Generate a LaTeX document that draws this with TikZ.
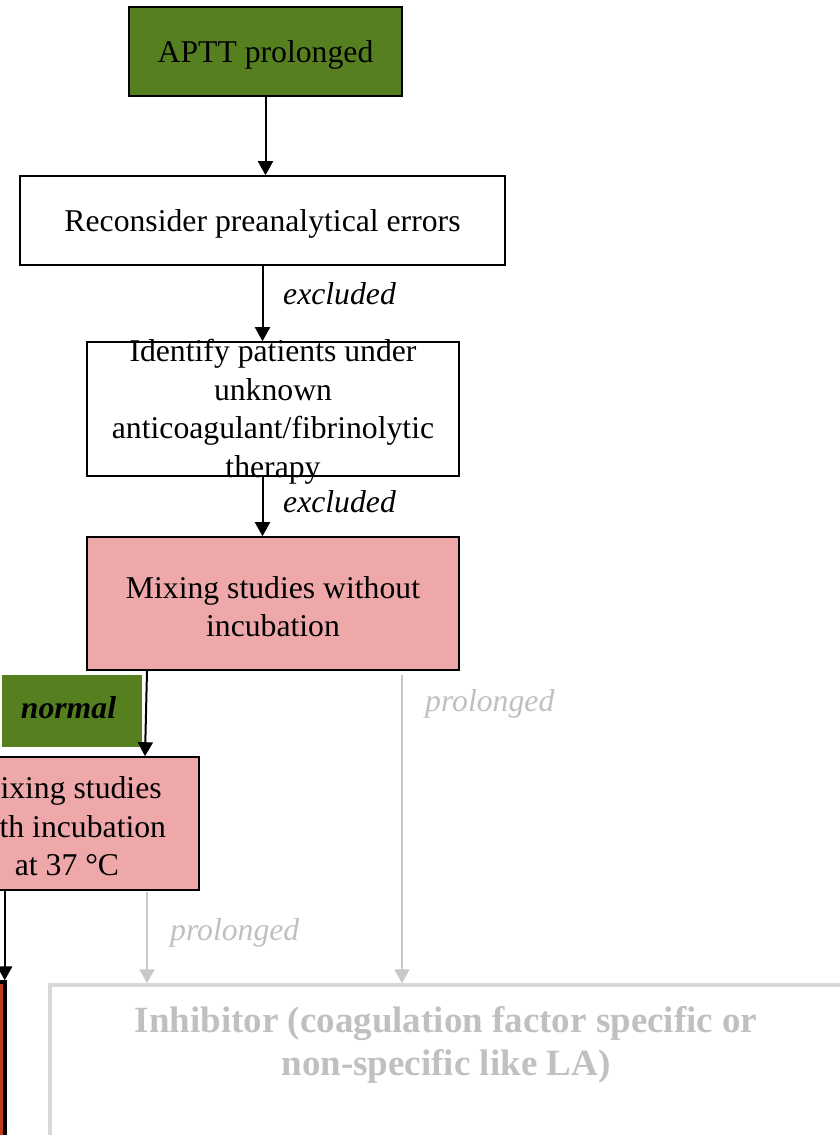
\documentclass[tikz,border=0pt]{standalone}
\usepackage{fontspec}
\setmainfont{Liberation Serif}
\usetikzlibrary{arrows.meta,calc}
\definecolor{boxgreen}{RGB}{86,128,32}
\definecolor{boxpink}{RGB}{238,168,170}
\definecolor{boxred}{RGB}{194,58,30}
\definecolor{fadeline}{RGB}{200,200,200}
\definecolor{fadetext}{RGB}{192,192,192}
\definecolor{fadeborder}{RGB}{217,217,217}
\begin{document}
\begin{tikzpicture}[x=1pt,y=-1pt,
  box/.style={draw=black, line width=1.6pt, inner sep=0pt},
  boxtext/.style={align=center, inner sep=0pt, font=\fontsize{31.7}{38.5}\selectfont},
  flow/.style={draw=black, line width=2pt, -{Triangle[width=15pt,length=14pt]}},
  fadeflow/.style={draw=fadeline, line width=2pt, -{Triangle[width=15pt,length=14pt]}},
  lbl/.style={font=\fontsize{31.7}{38.5}\selectfont\itshape, inner sep=0pt},
]
\useasboundingbox (0,0) rectangle (840,1135);
\clip (0,0) rectangle (840,1135);

% boxes
\node[box, fill=boxgreen, minimum width=273pt, minimum height=89pt] (aptt) at (265.5,51.5) {};
\node[boxtext] (aptttext) at ([yshift=-3pt]aptt.center) {APTT prolonged};
\node[box, minimum width=485pt, minimum height=89pt] (reconsider) at (262.5,220.5) {};
\node[boxtext] (recontext) at ([yshift=-3pt]reconsider.center) {Reconsider preanalytical errors};
\node[box, minimum width=372pt, minimum height=134pt] (identify) at (273,409) {};
\node[boxtext] (identifytext) at ([yshift=-3pt]identify.center)
  {Identify patients under\\unknown\\anticoagulant/fibrinolytic\\therapy};
\node[box, fill=boxpink, minimum width=372pt, minimum height=133pt] (mix1) at (273,603.5) {};
\node[boxtext] (mix1text) at ([yshift=-3pt]mix1.center) {Mixing studies without\\incubation};
\node[box, draw=none, fill=boxgreen, minimum width=140pt, minimum height=72pt] (normalbox) at (71.5,711) {};
\node[boxtext, font=\fontsize{31.7}{38.5}\selectfont\bfseries\itshape] (normaltext) at ([xshift=-3pt,yshift=3pt]normalbox.center) {normal};
\node[box, fill=boxpink, minimum width=264pt, minimum height=133pt] (mix2) at (67,823.5) {};
\node[boxtext] (mix2text) at ([yshift=-3pt]mix2.center) {Mixing studies\\with incubation\\at 37 °C};
\node[box, fill=boxred, line width=3.5pt, minimum width=205pt, minimum height=318pt] (red) at (-97.5,1141) {};
\node[box, draw=fadeborder, line width=3.5pt, minimum width=792pt, minimum height=315pt] (inhib) at (446,1142.5) {};
\node[align=center, inner sep=0pt, text=fadetext, font=\fontsize{37}{43}\selectfont\bfseries, anchor=north] (inhibtext) at (446,1006)
  {Inhibitor (coagulation factor specific or\\non-specific like LA)};

% connectors
\draw[flow] (aptt.south) -- (aptt.south |- reconsider.north);
\draw[flow] (reconsider.south) -- (reconsider.south |- identify.north);
\draw[flow] (identify.south -| reconsider.south) -- (reconsider.south |- mix1.north);
\draw[flow] ([xshift=-126pt]mix1.south) -- ([xshift=78pt]mix2.north);
\coordinate (redin) at ($(red.north east)+(-2,0)$);
\draw[flow] (mix2.south -| redin) -- (redin);
\draw[fadeflow] ([xshift=80pt,yshift=-1pt]mix2.south) -- ([xshift=80pt]mix2.south |- inhib.north);
\draw[fadeflow] ([xshift=129pt,yshift=-4pt]mix1.south) -- ([xshift=129pt]mix1.south |- inhib.north);

% labels
\node[lbl, anchor=west] (excl1) at (283,294) {excluded};
\node[lbl, anchor=west] (excl2) at (283,502) {excluded};
\node[lbl, anchor=base west, text=fadetext] (prol1) at (425,711) {prolonged};
\node[lbl, anchor=base west, text=fadetext] (prol2) at (170,940) {prolonged};
\end{tikzpicture}
\end{document}
